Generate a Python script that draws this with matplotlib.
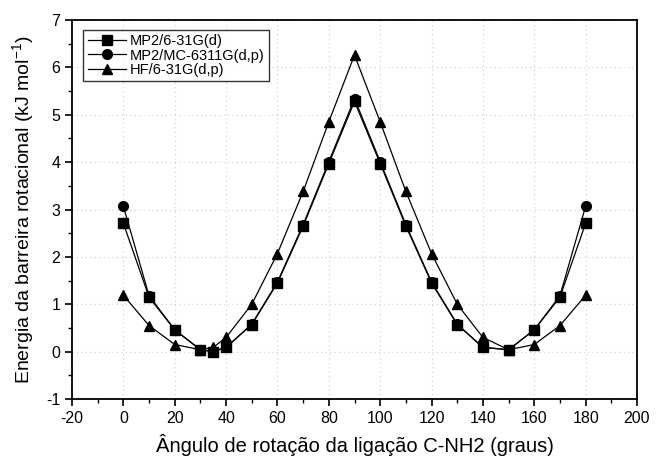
import matplotlib
matplotlib.use("Agg")
import matplotlib.pyplot as plt
from matplotlib.ticker import MultipleLocator

plt.rcParams['font.family'] = ['Liberation Sans', 'DejaVu Sans']
plt.rcParams['mathtext.fontset'] = 'custom'
plt.rcParams['mathtext.rm'] = 'Liberation Sans'
plt.rcParams['mathtext.default'] = 'regular'
plt.rcParams['axes.unicode_minus'] = False

angles = [0, 10, 20, 30, 35, 40, 50, 60, 70, 80, 90, 100, 110, 120, 130, 140, 150, 160, 170, 180]
mp2_631 = [2.71, 1.15, 0.46, 0.04, 0.00, 0.09, 0.57, 1.45, 2.65, 3.97, 5.28, 3.97, 2.65, 1.45, 0.57, 0.09, 0.04, 0.46, 1.15, 2.71]
mp2_mc = [3.07, 1.18, 0.46, 0.04, 0.00, 0.09, 0.58, 1.47, 2.68, 4.01, 5.34, 4.01, 2.68, 1.47, 0.58, 0.09, 0.04, 0.46, 1.18, 3.07]
hf_631 = [1.19, 0.55, 0.15, 0.04, 0.09, 0.30, 1.00, 2.07, 3.38, 4.85, 6.26, 4.85, 3.38, 2.07, 1.00, 0.30, 0.04, 0.15, 0.55, 1.19]
labels = ['MP2/6-31G(d)', 'MP2/MC-6311G(d,p)', 'HF/6-31G(d,p)']

fig = plt.figure(figsize=(6.56, 4.59), dpi=100)
ax = fig.add_axes([72/656, 1 - 399/459, (637-72)/656, (399-20)/459])

ax.plot(angles, mp2_631, color='black', lw=0.9, marker='s', ms=6.5, label=labels[0])
ax.plot(angles, mp2_mc, color='black', lw=0.9, marker='o', ms=7, label=labels[1])
ax.plot(angles, hf_631, color='black', lw=0.9, marker='^', ms=7.5, label=labels[2])

ax.set_xlim(-20, 200)
ax.set_ylim(-1, 7)
ax.xaxis.set_major_locator(MultipleLocator(20))
ax.xaxis.set_minor_locator(MultipleLocator(10))
ax.yaxis.set_major_locator(MultipleLocator(1))
ax.yaxis.set_minor_locator(MultipleLocator(0.5))
ax.tick_params(which='major', direction='out', length=5, width=1.2, labelsize=11.5, colors='black')
ax.tick_params(which='minor', direction='out', length=3, width=1.0)
for s in ax.spines.values():
    s.set_linewidth(1.3)
ax.grid(True, which='major', linestyle=(0, (1, 3)), color='#cccccc', lw=0.8)
ax.set_axisbelow(True)

ax.set_xlabel('Ângulo de rotação da ligação C-NH2 (graus)', fontsize=14.5, labelpad=6)
ax.set_ylabel('Energia da barreira rotacional (kJ mol$^{-1}$)', fontsize=14, labelpad=7)

leg = ax.legend(loc='upper left', fontsize=10.5, frameon=True, fancybox=False,
                edgecolor='black', borderpad=0.3, labelspacing=0.02, handlelength=2.6,
                handletextpad=0.3, bbox_to_anchor=(0.02, 0.974), borderaxespad=0)
leg.get_frame().set_linewidth(1.0)

fig.savefig('out.png', dpi=100)
